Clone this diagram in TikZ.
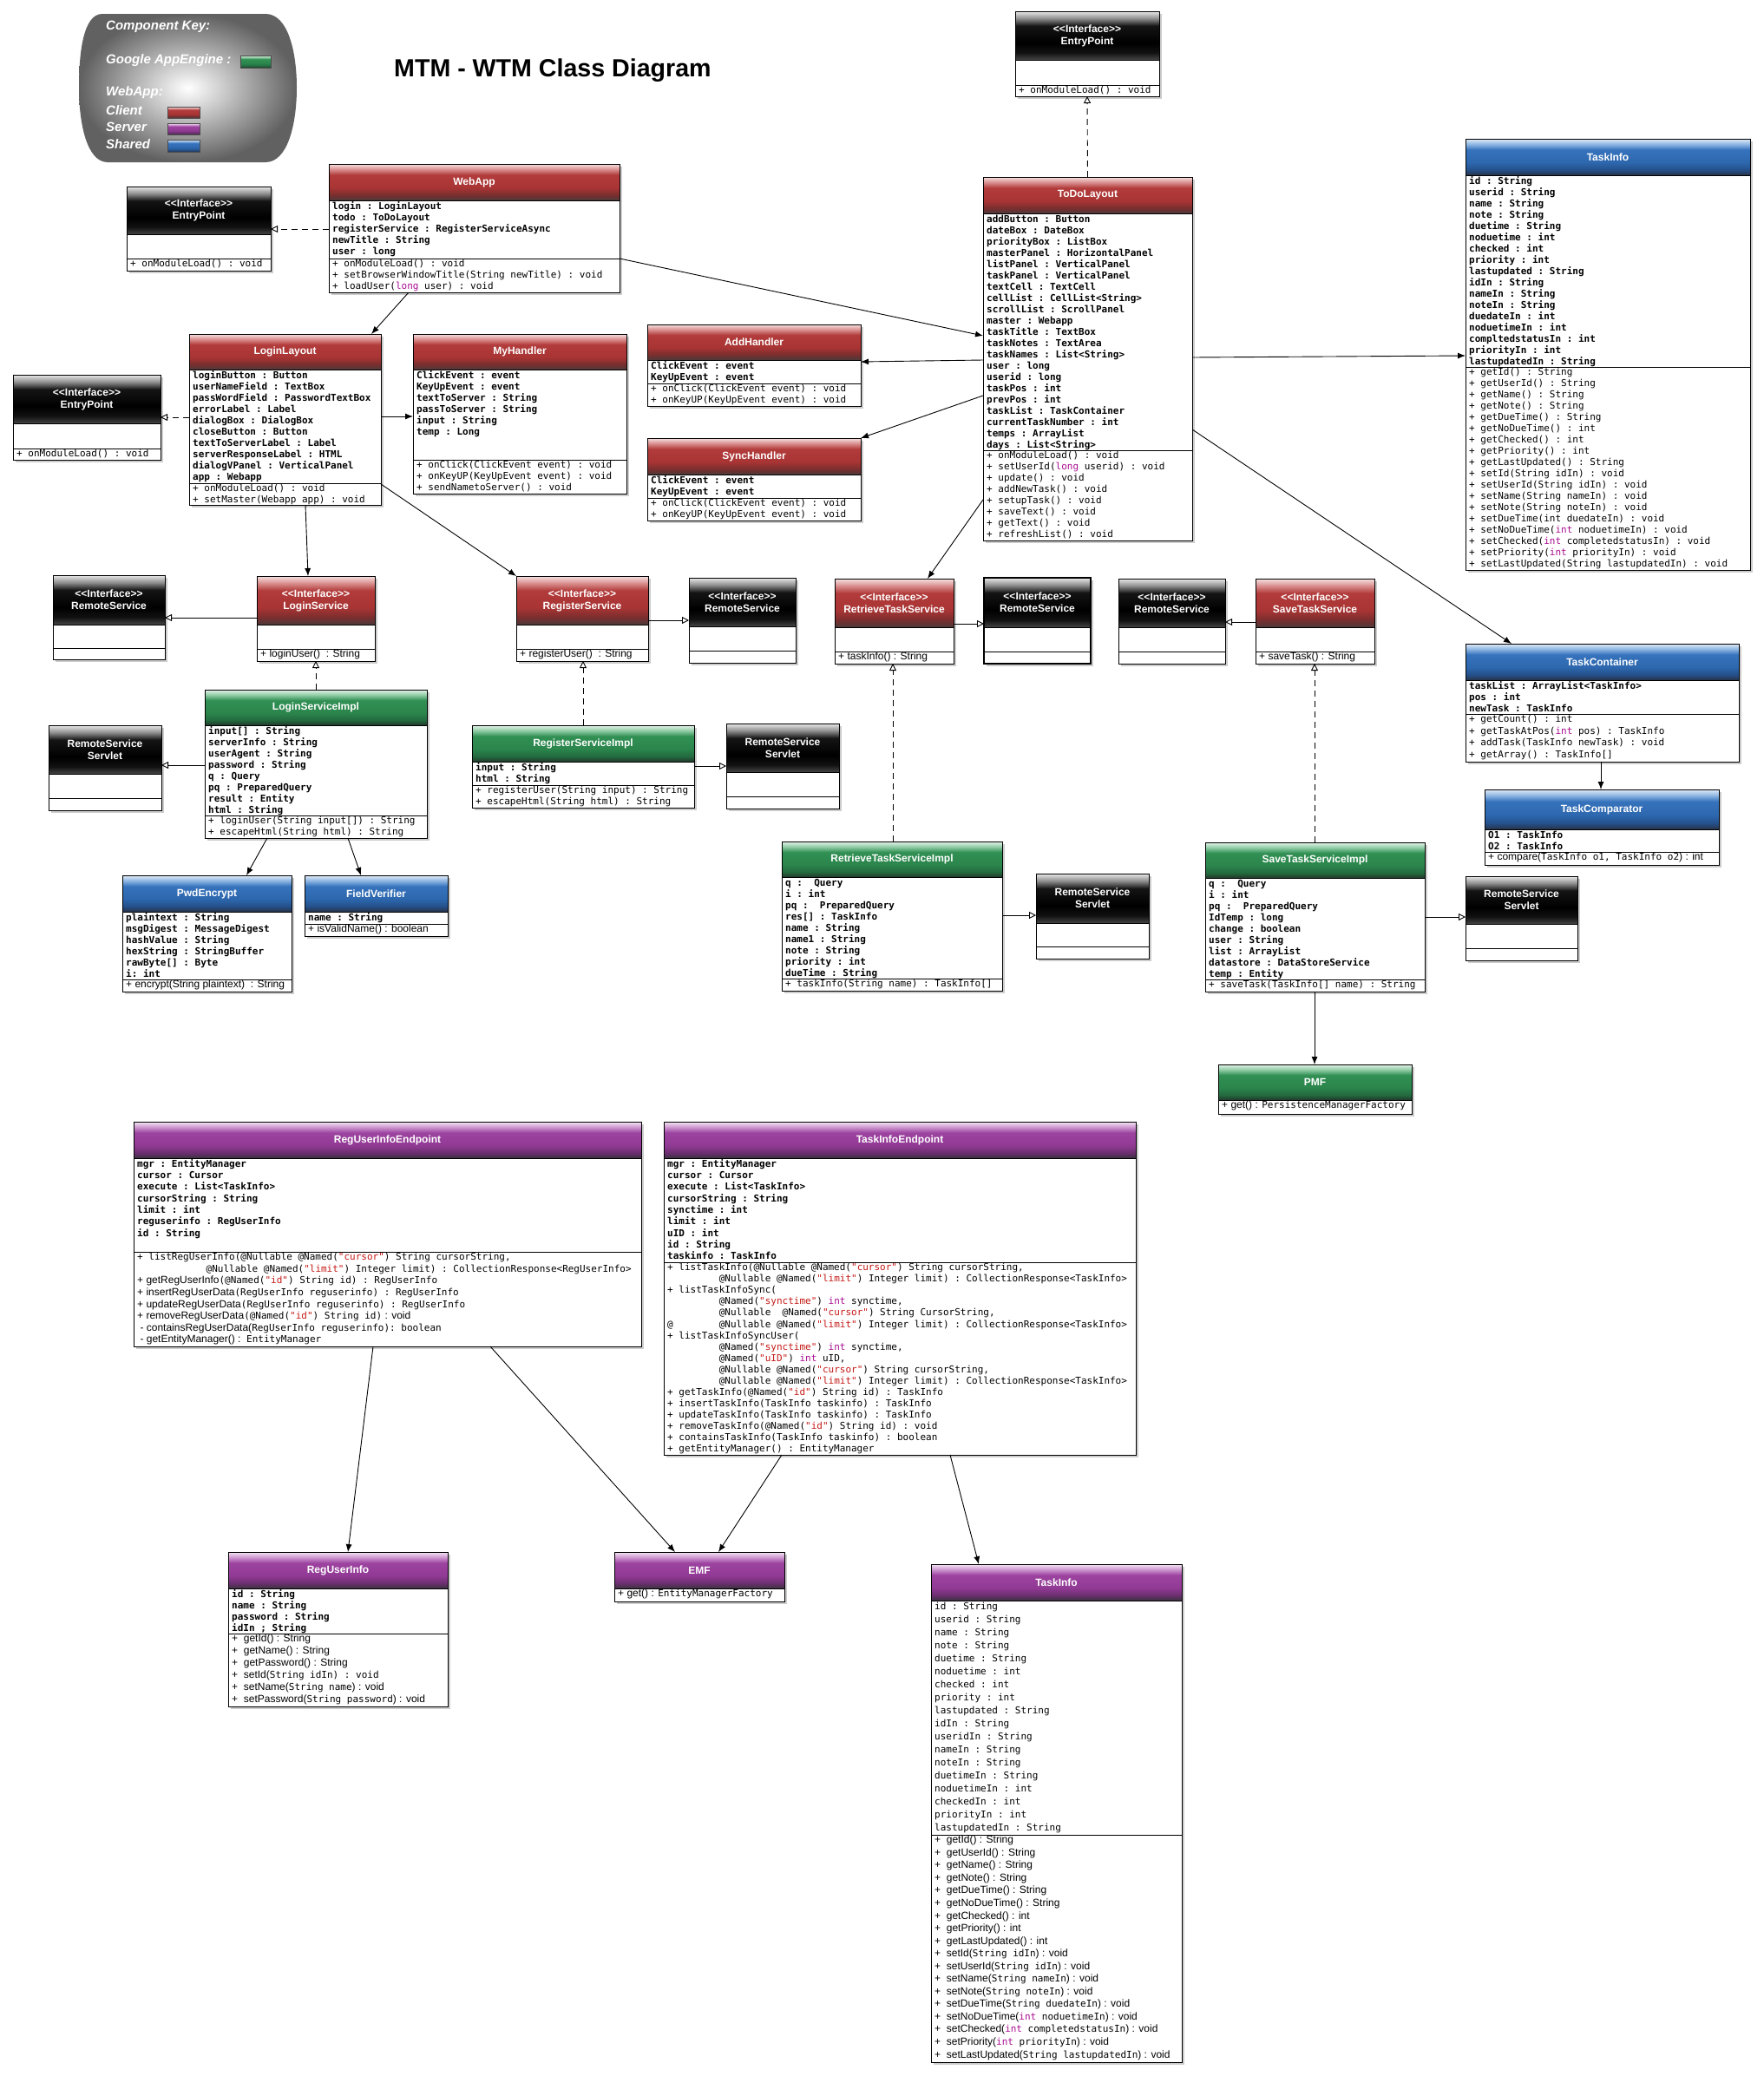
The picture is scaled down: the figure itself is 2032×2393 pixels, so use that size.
\documentclass[tikz,border=0pt]{standalone}
\usepackage{fontspec}
\setmainfont{Liberation Sans}
\setmonofont{DejaVu Sans Mono}
\usetikzlibrary{arrows.meta,fit,calc}

\definecolor{strred}{HTML}{C41A16}
\definecolor{kwmag}{HTML}{AA0D91}
% red
\definecolor{r0}{HTML}{4C3A3A}\definecolor{r1}{HTML}{7A2E2E}\definecolor{r2}{HTML}{A93434}
\definecolor{r3}{HTML}{B23B3B}\definecolor{r4}{HTML}{D98C8C}\definecolor{r5}{HTML}{F7E2E2}
% green
\definecolor{g0}{HTML}{21392A}\definecolor{g1}{HTML}{236B40}\definecolor{g2}{HTML}{2B854C}
\definecolor{g3}{HTML}{319054}\definecolor{g4}{HTML}{8FCBA4}\definecolor{g5}{HTML}{E4F4EA}
% blue
\definecolor{b0}{HTML}{273246}\definecolor{b1}{HTML}{24508A}\definecolor{b2}{HTML}{2D67AE}
\definecolor{b3}{HTML}{3673BC}\definecolor{b4}{HTML}{8DB5E2}\definecolor{b5}{HTML}{E2ECF8}
% purple
\definecolor{p0}{HTML}{3B3340}\definecolor{p1}{HTML}{6C2F70}\definecolor{p2}{HTML}{913A94}
\definecolor{p3}{HTML}{9C43A0}\definecolor{p4}{HTML}{CC95CE}\definecolor{p5}{HTML}{F5E6F5}
% black
\definecolor{k0}{HTML}{454545}\definecolor{k1}{HTML}{111111}\definecolor{k2}{HTML}{000000}
\definecolor{k3}{HTML}{141414}\definecolor{k4}{HTML}{8C8C8C}\definecolor{k5}{HTML}{EAEAEA}

\pgfdeclareverticalshading{hred}{100bp}{color(0bp)=(r0); color(25bp)=(r0); color(32.5bp)=(r1); color(42.5bp)=(r2); color(60bp)=(r3); color(67.5bp)=(r4); color(75bp)=(r5); color(100bp)=(r5)}
\pgfdeclareverticalshading{hgreen}{100bp}{color(0bp)=(g0); color(25bp)=(g0); color(32.5bp)=(g1); color(42.5bp)=(g2); color(60bp)=(g3); color(67.5bp)=(g4); color(75bp)=(g5); color(100bp)=(g5)}
\pgfdeclareverticalshading{hblue}{100bp}{color(0bp)=(b0); color(25bp)=(b0); color(32.5bp)=(b1); color(42.5bp)=(b2); color(60bp)=(b3); color(67.5bp)=(b4); color(75bp)=(b5); color(100bp)=(b5)}
\pgfdeclareverticalshading{hpurple}{100bp}{color(0bp)=(p0); color(25bp)=(p0); color(32.5bp)=(p1); color(42.5bp)=(p2); color(60bp)=(p3); color(67.5bp)=(p4); color(75bp)=(p5); color(100bp)=(p5)}
\pgfdeclareverticalshading{hblack}{100bp}{color(0bp)=(k0); color(25bp)=(k0); color(32.5bp)=(k1); color(42.5bp)=(k2); color(60bp)=(k3); color(67.5bp)=(k4); color(75bp)=(k5); color(100bp)=(k5)}

\newcommand\kwd[1]{\textcolor{kwmag}{#1}}
\newcommand\qs[1]{\textcolor{strred}{"#1"}}
\newcommand\mono[1]{{\ttfamily\fontsize{11}{13}\selectfont #1}}
\newcommand\snf[1]{{\rmfamily\fontsize{12}{13}\selectfont #1}}
\newcommand\fl{\rule{0pt}{9pt}}
\newlength\mch \setlength\mch{6.623pt}
\newcommand\ind[1]{\hspace*{#1\mch}}
\newcommand\ifc{<\kern0pt<Interface>\kern0pt>}

% name, x1, y1, x2, y2, header bottom, divider, shading, title
\newcommand\uml[9]{%
  \fill[black!20] (#2+2.5,#3+2.5) rectangle (#4+2.5,#5+2.5);
  \fill[white] (#2,#3) rectangle (#4,#5);
  \shade[shading=#8] (#2,#3) rectangle (#4,#6);
  \node[inner sep=0pt, outer sep=0pt, fit={(#2,#3) (#4,#5)}] (#1) {};
  \draw[boxline] (#2,#6) -- (#4,#6);
  \if\relax\detokenize{#7}\relax\else\draw[boxline] (#2,#7) -- (#4,#7);\fi
  \draw[boxline] (#1.north west) rectangle (#1.south east);
  \node[ttl] (#1-t) at ($(#2,#3)!0.5!(#4,#6)$) {#9};
}

\tikzset{
  boxline/.style={line width=1pt, draw=black},
  ttl/.style={text=white, font=\bfseries\fontsize{12}{14}\selectfont, align=center, inner sep=0pt},
  attrtxt/.style={anchor=north west, inner sep=0pt, align=left, font=\ttfamily\bfseries\fontsize{11}{#1}\selectfont},
  attrtxt/.default=13,
  methtxt/.style={anchor=north west, inner sep=0pt, align=left, font=\ttfamily\fontsize{11}{#1}\selectfont},
  methtxt/.default=13,
  sanstxt/.style={anchor=north west, inner sep=0pt, align=left, font=\rmfamily\fontsize{12}{#1}\selectfont},
  sanstxt/.default=13,
  keytxt/.style={anchor=west, text=white, inner sep=0pt, font=\bfseries\itshape\fontsize{15}{17}\selectfont},
  assoc/.style={draw=black, line width=0.9pt, -{Latex[length=9pt,width=7pt]}},
  gen/.style={draw=black, line width=0.9pt, -{Triangle[open,length=8pt,width=8pt,fill=white]}},
  dep/.style={gen, dash pattern=on 7pt off 5pt},
}

\begin{document}
\begin{tikzpicture}[x=1pt,y=-1pt]
\fill[white] (0,0) rectangle (2032,2393);
\useasboundingbox (0,0) rectangle (2032,2393);

% ---------- component key ----------
\shade[inner color=white, outer color=black!62]
  (118,16) -- (306,16) .. controls (332,16) and (342,60) .. (342,101)
  .. controls (342,142) and (332,187) .. (306,187) -- (124,187)
  .. controls (100,187) and (91,142) .. (91,101)
  .. controls (91,60) and (96,16) .. (118,16) -- cycle;
\node[keytxt] (k1) at (122,31) {Component Key:};
\node[keytxt] (k2) at (122,70) {Google AppEngine :};
\node[keytxt] (k3) at (122,107) {WebApp:};
\node[keytxt] (k4) at (122,127) {Client};
\node[keytxt] (k5) at (122,146) {Server};
\node[keytxt] (k6) at (122,166) {Shared};
\shade[shading=hgreen] (277,64) rectangle (312,78);
\draw[line width=0.7pt, black!70] (277,64) rectangle (312,78);
\shade[shading=hred] (193,123) rectangle (230,136);
\draw[line width=0.7pt, black!70] (193,123) rectangle (230,136);
\shade[shading=hpurple] (193,142) rectangle (230,155);
\draw[line width=0.7pt, black!70] (193,142) rectangle (230,155);
\shade[shading=hblue] (193,161) rectangle (230,175);
\draw[line width=0.7pt, black!70] (193,161) rectangle (230,175);

\node[anchor=base west, inner sep=0pt, font=\bfseries\fontsize{28.6}{30}\selectfont] (title) at (454,88) {MTM - WTM Class Diagram};

% ---------- client classes ----------
\uml{ep1}{146}{215}{312}{312}{270}{298}{hblack}{\ifc\\EntryPoint}
\node[methtxt] (ep1-m) at (150,298.5) {\fl + onModuleLoad() : void};

\uml{webapp}{379}{189}{714}{337}{231}{298}{hred}{WebApp}
\node[attrtxt] (webapp-a) at (383,232) {\fl login : LoginLayout\\todo : ToDoLayout\\registerService : RegisterServiceAsync\\newTitle : String\\user : long};
\node[methtxt] (webapp-m) at (383,298.5) {\fl + onModuleLoad() : void\\+ setBrowserWindowTitle(String newTitle) : void\\+ loadUser(\kwd{long} user) : void};

\uml{login}{218}{385}{439}{582}{426}{557}{hred}{LoginLayout}
\node[attrtxt] (login-a) at (222,427) {\fl loginButton : Button\\userNameField : TextBox\\passWordField : PasswordTextBox\\errorLabel : Label\\dialogBox : DialogBox\\closeButton : Button\\textToServerLabel : Label\\serverResponseLabel : HTML\\dialogVPanel : VerticalPanel\\app : Webapp};
\node[methtxt=12.5] (login-m) at (222,557.5) {\fl + onModuleLoad() : void\\+ setMaster(Webapp app) : void};

\uml{myh}{476}{385}{722}{569}{426}{530}{hred}{MyHandler}
\node[attrtxt] (myh-a) at (480,427) {\fl ClickEvent : event\\KeyUpEvent : event\\textToServer : String\\passToServer : String\\input : String\\temp : Long};
\node[methtxt] (myh-m) at (480,530.5) {\fl + onClick(ClickEvent event) : void\\+ onKeyUP(KeyUpEvent event) : void\\+ sendNametoServer() : void};

\uml{ep2}{15}{432}{185}{530}{488}{517}{hblack}{\ifc\\EntryPoint}
\node[methtxt] (ep2-m) at (19,517.5) {\fl + onModuleLoad() : void};

\uml{ep3}{1170}{13}{1336}{111}{69}{98}{hblack}{\ifc\\EntryPoint}
\node[methtxt] (ep3-m) at (1174,98.5) {\fl + onModuleLoad() : void};

\uml{todo}{1133}{204}{1374}{623}{246}{519}{hred}{ToDoLayout}
\node[attrtxt] (todo-a) at (1137,247) {\fl addButton : Button\\dateBox : DateBox\\priorityBox : ListBox\\masterPanel : HorizontalPanel\\listPanel : VerticalPanel\\taskPanel : VerticalPanel\\textCell : TextCell\\cellList : CellList<String>\\scrollList : ScrollPanel\\master : Webapp\\taskTitle : TextBox\\taskNotes : TextArea\\taskNames : List<String>\\user : long\\userid : long\\taskPos : int\\prevPos : int\\taskList : TaskContainer\\currentTaskNumber : int\\temps : ArrayList\\days : List<String>};
\node[methtxt] (todo-m) at (1137,519.5) {\fl + onModuleLoad() : void\\+ setUserId(\kwd{long} userid) : void\\+ update() : void\\+ addNewTask() : void\\+ setupTask() : void\\+ saveText() : void\\+ getText() : void\\+ refreshList() : void};

\uml{addh}{746}{374}{992}{468}{415}{442}{hred}{AddHandler}
\node[attrtxt] (addh-a) at (750,416) {\fl ClickEvent : event\\KeyUpEvent : event};
\node[methtxt] (addh-m) at (750,442.5) {\fl + onClick(ClickEvent event) : void\\+ onKeyUP(KeyUpEvent event) : void};

\uml{synch}{746}{505}{992}{600}{547}{574}{hred}{SyncHandler}
\node[attrtxt] (synch-a) at (750,548) {\fl ClickEvent : event\\KeyUpEvent : event};
\node[methtxt] (synch-m) at (750,574.5) {\fl + onClick(ClickEvent event) : void\\+ onKeyUP(KeyUpEvent event) : void};

% ---------- shared classes ----------
\uml{tinfo}{1689}{160}{2017}{657}{202}{423}{hblue}{TaskInfo}
\node[attrtxt] (tinfo-a) at (1693,203) {\fl id : String\\userid : String\\name : String\\note : String\\duetime : String\\noduetime : int\\checked : int\\priority : int\\lastupdated : String\\idIn : String\\nameIn : String\\noteIn : String\\duedateIn : int\\noduetimeIn : int\\compltedstatusIn : int\\priorityIn : int\\lastupdatedIn : String};
\node[methtxt] (tinfo-m) at (1693,423.5) {\fl + getId() : String\\+ getUserId() : String\\+ getName() : String\\+ getNote() : String\\+ getDueTime() : String\\+ getNoDueTime() : int\\+ getChecked() : int\\+ getPriority() : int\\+ getLastUpdated() : String\\+ setId(String idIn) : void\\+ setUserId(String idIn) : void\\+ setName(String nameIn) : void\\+ setNote(String noteIn) : void\\+ setDueTime(int duedateIn) : void\\+ setNoDueTime(\kwd{int} noduetimeIn) : void\\+ setChecked(\kwd{int} completedstatusIn) : void\\+ setPriority(\kwd{int} priorityIn) : void\\+ setLastUpdated(String lastupdatedIn) : void};

\uml{tcont}{1689}{742}{2004}{878}{784}{823}{hblue}{TaskContainer}
\node[attrtxt] (tcont-a) at (1693,785) {\fl taskList : ArrayList<TaskInfo>\\pos : int\\newTask : TaskInfo};
\node[methtxt=13.6] (tcont-m) at (1693,823.5) {\fl + getCount() : int\\+ getTaskAtPos(\kwd{int} pos) : TaskInfo\\+ addTask(TaskInfo newTask) : void\\+ getArray() : TaskInfo[]};

\uml{tcomp}{1711}{910}{1981}{997}{956}{982}{hblue}{TaskComparator}
\node[attrtxt] (tcomp-a) at (1715,957) {\fl O1 : TaskInfo\\O2 : TaskInfo};
\node[sanstxt] (tcomp-m) at (1715,982.5) {\fl + compare(\mono{TaskInfo o1, TaskInfo o2}) : int};

% ---------- interfaces ----------
\uml{rs1}{61}{663}{190}{760}{720}{747}{hblack}{\ifc\\RemoteService}
\uml{lsvc}{296}{664}{432}{762}{720}{748}{hred}{\ifc\\LoginService}
\node[sanstxt] (lsvc-m) at (300,748.5) {\fl + loginUser()~ : String};
\uml{rsvc}{595}{664}{747}{762}{720}{748}{hred}{\ifc\\RegisterService}
\node[sanstxt] (rsvc-m) at (599,748.5) {\fl + registerUser()~ : String};
\uml{rs2}{794}{666}{917}{764}{722}{750}{hblack}{\ifc\\RemoteService}
\uml{rtsvc}{962}{667}{1099}{765}{723}{751}{hred}{\ifc\\RetrieveTaskService}
\node[sanstxt] (rtsvc-m) at (966,751.5) {\fl + taskInfo() : String};
\uml{rs3}{1134}{666}{1257}{765}{723}{751}{hblack}{\ifc\\RemoteService}
\draw[line width=2pt] (rs3.north west) rectangle (rs3.south east);
\uml{rs4}{1289}{667}{1412}{765}{723}{751}{hblack}{\ifc\\RemoteService}
\uml{stsvc}{1447}{667}{1584}{765}{723}{751}{hred}{\ifc\\SaveTaskService}
\node[sanstxt] (stsvc-m) at (1451,751.5) {\fl + saveTask() : String};

% ---------- app engine classes ----------
\uml{lsi}{236}{795}{492}{966}{836}{940}{hgreen}{LoginServiceImpl}
\node[attrtxt] (lsi-a) at (240,837) {\fl input[] : String\\serverInfo : String\\userAgent : String\\password : String\\q : Query\\pq : PreparedQuery\\result : Entity\\html : String};
\node[methtxt] (lsi-m) at (240,940.5) {\fl + loginUser(String input[]) : String\\+ escapeHtml(String html) : String};

\uml{rss1}{56}{836}{186}{934}{892}{920}{hblack}{RemoteService\\Servlet}

\uml{pwd}{141}{1009}{336}{1143}{1051}{1129}{hblue}{PwdEncrypt}
\node[attrtxt] (pwd-a) at (145,1052) {\fl plaintext : String\\msgDigest : MessageDigest\\hashValue : String\\hexString : StringBuffer\\rawByte[] : Byte\\i: int};
\node[sanstxt] (pwd-m) at (145,1129.5) {\fl + encrypt(String plaintext)~ : String};

\uml{fv}{351}{1009}{516}{1079}{1051}{1065}{hblue}{FieldVerifier}
\node[attrtxt] (fv-a) at (355,1052) {\fl name : String};
\node[sanstxt] (fv-m) at (355,1065.5) {\fl + isValidName() : boolean};

\uml{rsi}{544}{836}{800}{931}{878}{905}{hgreen}{RegisterServiceImpl}
\node[attrtxt] (rsi-a) at (548,879) {\fl input : String\\html : String};
\node[methtxt] (rsi-m) at (548,905.5) {\fl + registerUser(String input) : String\\+ escapeHtml(String html) : String};

\uml{rss2}{837}{834}{967}{932}{890}{918}{hblack}{RemoteService\\Servlet}

\uml{rtsi}{901}{970}{1155}{1142}{1011}{1128}{hgreen}{RetrieveTaskServiceImpl}
\node[attrtxt] (rtsi-a) at (905,1012) {\fl q :~~Query\\i : int\\pq :~~PreparedQuery\\res[] : TaskInfo\\name : String\\name1 : String\\note : String\\priority : int\\dueTime : String};
\node[methtxt] (rtsi-m) at (905,1128.5) {\fl + taskInfo(String name) : TaskInfo[]};

\uml{rss3}{1194}{1007}{1324}{1105}{1064}{1091}{hblack}{RemoteService\\Servlet}

\uml{stsi}{1389}{971}{1642}{1143}{1012}{1129}{hgreen}{SaveTaskServiceImpl}
\node[attrtxt] (stsi-a) at (1393,1013) {\fl q :~~Query\\i : int\\pq :~~PreparedQuery\\IdTemp : long\\change : boolean\\user : String\\list : ArrayList\\datastore : DataStoreService\\temp : Entity};
\node[methtxt] (stsi-m) at (1393,1129.5) {\fl + saveTask(TaskInfo[] name) : String};

\uml{rss4}{1689}{1010}{1818}{1107}{1065}{1093}{hblack}{RemoteService\\Servlet}

\uml{pmf}{1404}{1227}{1627}{1284}{1268}{}{hgreen}{PMF}
\node[sanstxt] (pmf-m) at (1408,1268.5) {\fl + get() : \mono{PersistenceManagerFactory}};

% ---------- server classes ----------
\uml{ruie}{154}{1293}{739}{1552}{1335}{1443}{hpurple}{RegUserInfoEndpoint}
\node[attrtxt=13.3] (ruie-a) at (158,1336) {\fl mgr : EntityManager\\cursor : Cursor\\execute : List<TaskInfo>\\cursorString : String\\limit : int\\reguserinfo : RegUserInfo\\id : String};
\node[methtxt=13.6] (ruie-m) at (158,1443.5) {\fl + listRegUserInfo(@Nullable @Named(\qs{cursor}) String cursorString,\\
\ind{12}@Nullable @Named(\qs{limit}) Integer limit) : CollectionResponse<RegUserInfo>\\
\snf{+ getRegUserInfo}(@Named(\qs{id}) String id) : RegUserInfo\\
\snf{+ insertRegUserData}(RegUserInfo reguserinfo) : RegUserInfo\\
\snf{+ updateRegUserData}(RegUserInfo reguserinfo) : RegUserInfo\\
\snf{+ removeRegUserData}(@Named(\qs{id}) String id)\snf{ : void}\\
\snf{\ - containsRegUserData(}RegUserInfo reguserinfo): boolean\\
\snf{\ - getEntityManager() :} EntityManager};

\uml{tie}{765}{1293}{1309}{1677}{1335}{1455}{hpurple}{TaskInfoEndpoint}
\node[attrtxt=13.3] (tie-a) at (769,1336) {\fl mgr : EntityManager\\cursor : Cursor\\execute : List<TaskInfo>\\cursorString : String\\synctime : int\\limit : int\\uID : int\\id : String\\taskinfo : TaskInfo};
\node[methtxt=13.06] (tie-m) at (769,1455.5) {\fl + listTaskInfo(@Nullable @Named(\qs{cursor}) String cursorString,\\
\ind{9}@Nullable @Named(\qs{limit}) Integer limit) : CollectionResponse<TaskInfo>\\
+ listTaskInfoSync(\\
\ind{9}@Named(\qs{synctime}) \kwd{int} synctime,\\
\ind{9}@Nullable~~@Named(\qs{cursor}) String CursorString,\\
@\ind{8}@Nullable @Named(\qs{limit}) Integer limit) : CollectionResponse<TaskInfo>\\
+ listTaskInfoSyncUser(\\
\ind{9}@Named(\qs{synctime}) \kwd{int} synctime,\\
\ind{9}@Named(\qs{uID}) \kwd{int} uID,\\
\ind{9}@Nullable @Named(\qs{cursor}) String cursorString,\\
\ind{9}@Nullable @Named(\qs{limit}) Integer limit) : CollectionResponse<TaskInfo>\\
+ getTaskInfo(@Named(\qs{id}) String id) : TaskInfo\\
+ insertTaskInfo(TaskInfo taskinfo) : TaskInfo\\
+ updateTaskInfo(TaskInfo taskinfo) : TaskInfo\\
+ removeTaskInfo(@Named(\qs{id}) String id) : void\\
+ containsTaskInfo(TaskInfo taskinfo) : boolean\\
+ getEntityManager() : EntityManager};

\uml{rui}{263}{1789}{516}{1967}{1831}{1883}{hpurple}{RegUserInfo}
\node[attrtxt] (rui-a) at (267,1832) {\fl id : String\\name : String\\password : String\\idIn ; String};
\node[sanstxt=14] (rui-m) at (267,1883.5) {\fl +~ getId() : String\\+~ getName() : String\\+~ getPassword() : String\\+~ setId(\mono{String idIn) : void}\\+~ setName(\mono{String name}) : void\\+~ setPassword(\mono{String password}) : void};

\uml{emf}{708}{1789}{904}{1846}{1831}{}{hpurple}{EMF}
\node[sanstxt] (emf-m) at (712,1831.5) {\fl + get() : \mono{EntityManagerFactory}};

\uml{tinfo2}{1073}{1803}{1362}{2377}{1845}{2115}{hpurple}{TaskInfo}
\node[methtxt=15] (tinfo2-a) at (1077,1846) {\fl id : String\\userid : String\\name : String\\note : String\\duetime : String\\noduetime : int\\checked : int\\priority : int\\lastupdated : String\\idIn : String\\useridIn : String\\nameIn : String\\noteIn : String\\duetimeIn : String\\noduetimeIn : int\\checkedIn : int\\priorityIn : int\\lastupdatedIn : String};
\node[sanstxt=14.55] (tinfo2-m) at (1077,2115.5) {\fl +~~getId() : String\\+~~getUserId() : String\\+~~getName() : String\\+~~getNote() : String\\+~~getDueTime() : String\\+~~getNoDueTime() : String\\+~~getChecked() : int\\+~~getPriority() : int\\+~~getLastUpdated() : int\\+~~setId(\mono{String idIn}) : void\\+~~setUserId(\mono{String idIn}) : void\\+~~setName(\mono{String nameIn}) : void\\+~~setNote(\mono{String noteIn}) : void\\+~~setDueTime(\mono{String duedateIn}) : void\\+~~setNoDueTime(\mono{\kwd{int} noduetimeIn}) : void\\+~~setChecked(\mono{\kwd{int} completedstatusIn}) : void\\+~~setPriority(\mono{\kwd{int} priorityIn}) : void\\+~~setLastUpdated(\mono{String lastupdatedIn}) : void};

% ---------- connectors ----------
\draw[dep] ($(webapp.north west)+(0,75)$) -- ($(ep1.north east)+(0,49)$);
\draw[assoc] ($(webapp.north east)+(0,109)$) -- ($(todo.north west)+(0,183)$);
\draw[assoc] ($(webapp.south west)+(92,0)$) -- ($(login.north west)+(210,0)$);
\draw[assoc] ($(login.north east)+(0,95)$) -- ($(myh.north west)+(0,95)$);
\draw[dep] ($(login.north west)+(0,96)$) -- ($(ep2.north east)+(0,49)$);
\draw[assoc] ($(login.south west)+(134,0)$) -- ($(lsvc.north west)+(59,0)$);
\draw[assoc] ($(login.north east)+(0,173)$) -- (rsvc.north west);
\draw[dep] (todo.north) -- (ep3.south);
\draw[assoc] ($(todo.north west)+(0,211)$) -- ($(addh.north east)+(0,43)$);
\draw[assoc] ($(todo.north west)+(0,252)$) -- (synch.north east);
\draw[assoc] ($(todo.north west)+(0,372)$) -- ($(rtsvc.north west)+(107,0)$);
\draw[assoc] ($(todo.north east)+(0,208)$) -- ($(tinfo.north west)+(0,250)$);
\draw[assoc] ($(todo.north east)+(0,291)$) -- ($(tcont.north west)+(53,0)$);
\draw[gen] ($(lsvc.north west)+(0,48)$) -- ($(rs1.north east)+(0,49)$);
\draw[gen] ($(rsvc.north east)+(0,51)$) -- ($(rs2.north west)+(0,49)$);
\draw[gen] ($(rtsvc.north east)+(0,52)$) -- ($(rs3.north west)+(0,53)$);
\draw[gen] ($(stsvc.north west)+(0,50)$) -- ($(rs4.north east)+(0,50)$);
\draw[dep] ($(lsi.north west)+(128,0)$) -- ($(lsvc.south west)+(68,0)$);
\draw[gen] ($(lsi.north west)+(0,87)$) -- ($(rss1.north east)+(0,46)$);
\draw[assoc] ($(lsi.south west)+(72,0)$) -- ($(pwd.north west)+(143,0)$);
\draw[assoc] ($(lsi.south west)+(165,0)$) -- ($(fv.north west)+(65,0)$);
\draw[dep] ($(rsi.north west)+(128,0)$) -- ($(rsvc.south west)+(77,0)$);
\draw[gen] ($(rsi.north east)+(0,47)$) -- ($(rss2.north west)+(0,49)$);
\draw[dep] ($(rtsi.north west)+(128,0)$) -- ($(rtsvc.south west)+(67,0)$);
\draw[gen] ($(rtsi.north east)+(0,85)$) -- ($(rss3.north west)+(0,48)$);
\draw[dep] ($(stsi.north west)+(126,0)$) -- ($(stsvc.south west)+(68,0)$);
\draw[gen] ($(stsi.north east)+(0,86)$) -- ($(rss4.north west)+(0,47)$);
\draw[assoc] ($(stsi.south west)+(126,0)$) -- ($(pmf.north west)+(111,0)$);
\draw[assoc] ($(tcont.south west)+(156,0)$) -- ($(tcomp.north west)+(134,0)$);
\draw[assoc] ($(ruie.south west)+(276,0)$) -- ($(rui.north west)+(138,0)$);
\draw[assoc] ($(ruie.south west)+(411,0)$) -- ($(emf.north west)+(70,0)$);
\draw[assoc] ($(tie.south west)+(136,0)$) -- ($(emf.north west)+(120,0)$);
\draw[assoc] ($(tie.south west)+(330,0)$) -- ($(tinfo2.north west)+(55,0)$);
\end{tikzpicture}
\end{document}
